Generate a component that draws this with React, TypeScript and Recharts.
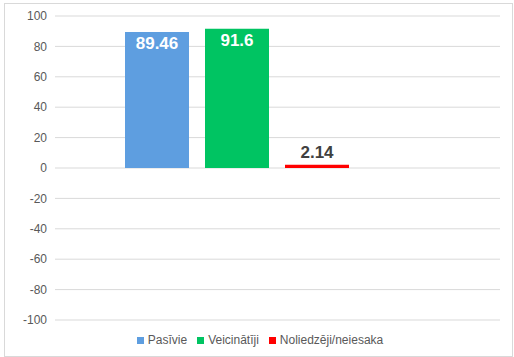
import React from "react";
import {
  BarChart,
  Bar,
  XAxis,
  YAxis,
  CartesianGrid,
  Legend,
  LabelList,
} from "recharts";

// one category, three visible series plus an empty fourth slot (as in the source sheet)
const categories = [""];
const seriesNames = ["Pasīvie", "Veicinātīji", "Noliedzēji/neiesaka"];
const pasivie = [89.46];
const veicinatiji = [91.6];
const noliedzeji = [2.14];
const emptySlot = [null];
const yTicks = [-100, -80, -60, -40, -20, 0, 20, 40, 60, 80, 100];

const data = categories.map((c, i) => ({
  name: c,
  [seriesNames[0]]: pasivie[i],
  [seriesNames[1]]: veicinatiji[i],
  [seriesNames[2]]: noliedzeji[i],
  empty: emptySlot[i],
}));

const FONT = "'Liberation Sans', Arial, sans-serif";

export default function App() {
  return (
    <div
      style={{
        position: "absolute",
        left: 0,
        top: 0,
        width: 514,
        height: 357,
        fontFamily: FONT,
        background: "#fff",
      }}
    >
      <div
        style={{
          position: "absolute",
          left: 4,
          top: 3,
          width: 507,
          height: 352,
          border: "1px solid #d9d9d9",
        }}
      />
      <BarChart
        width={514}
        height={357}
        data={data}
        margin={{ top: 16, right: 14, left: 0, bottom: 17 }}
        barCategoryGap={70}
        barGap={16}
      >
        <CartesianGrid vertical={false} stroke="#d9d9d9" />
        <XAxis dataKey="name" hide />
        <YAxis
          domain={[-100, 100]}
          ticks={yTicks}
          width={55}
          axisLine={false}
          tickLine={false}
          tick={{ fontSize: 12, fill: "#595959", fontFamily: FONT }}
        />
        <Legend
          verticalAlign="bottom"
          height={20}
          iconType="square"
          iconSize={7}
          itemSorter={(item: any) => seriesNames.indexOf(item.value)}
          wrapperStyle={{ bottom: 4, left: 15, fontSize: 12, fontFamily: FONT }}
          formatter={(value) => <span style={{ color: "#595959" }}>{value}</span>}
        />
        <Bar dataKey={seriesNames[0]} fill="#5e9ee0" isAnimationActive={false}>
          <LabelList
            dataKey={seriesNames[0]}
            position="insideTop"
            fill="#fff"
            fontSize={17}
            fontWeight="bold"
            fontFamily={FONT}
          />
        </Bar>
        <Bar dataKey={seriesNames[1]} fill="#00c462" isAnimationActive={false}>
          <LabelList
            dataKey={seriesNames[1]}
            position="insideTop"
            fill="#fff"
            fontSize={17}
            fontWeight="bold"
            fontFamily={FONT}
          />
        </Bar>
        <Bar dataKey={seriesNames[2]} fill="#ff0000" isAnimationActive={false}>
          <LabelList
            dataKey={seriesNames[2]}
            position="top"
            offset={7}
            fill="#404040"
            fontSize={17}
            fontWeight="bold"
            fontFamily={FONT}
          />
        </Bar>
        <Bar dataKey="empty" fill="none" legendType="none" isAnimationActive={false} />
      </BarChart>
    </div>
  );
}
